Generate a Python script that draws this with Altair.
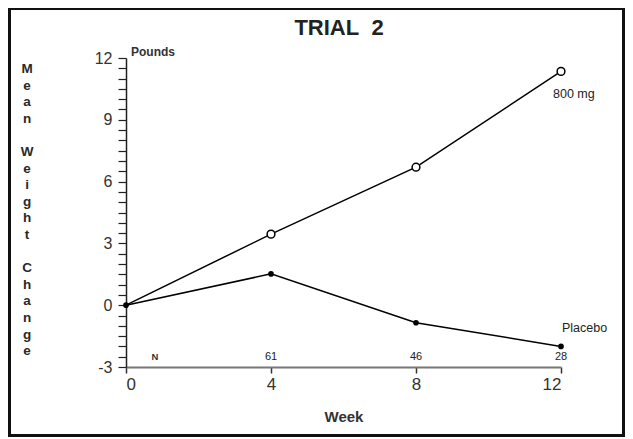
import altair as alt
import pandas as pd

weeks = [0, 4, 8, 12]
dose_800 = [0.0, 3.45, 6.7, 11.35]
placebo = [0.0, 1.52, -0.85, -2.0]
n_weeks = [4, 8, 12]
n_counts = ["61", "46", "28"]
y_ticks = [-3 + 0.5 * i for i in range(31)]
x_ticks = [0, 4, 8, 12]
y_title_words = ["Mean", "Weight", "Change"]
y_title_start_line = [0, 5, 12]

df = pd.DataFrame({
    "week": weeks + weeks,
    "value": dose_800 + placebo,
    "series": ["800 mg"] * 4 + ["Placebo"] * 4,
})
ndf = pd.DataFrame({"week": n_weeks, "value": [-3] * 3, "n": n_counts})

FONT = "Liberation Sans"
W, H = 435, 309
LH = 16.6

xs = alt.X("week:Q", scale=alt.Scale(domain=[0, 12], nice=False),
           axis=alt.Axis(values=x_ticks, title="Week", grid=False, domainColor="#777",
                         domainWidth=2, tickColor="#333", tickWidth=1.5, tickSize=6,
                         labelFontSize=17, labelColor="#333", labelFont=FONT, labelPadding=3,
                         titleFont=FONT, titleFontSize=15, titleFontWeight="bold",
                         titleColor="#333", titlePadding=17))
ys = alt.Y("value:Q", scale=alt.Scale(domain=[-3, 12], nice=False, zero=False),
           axis=alt.Axis(values=y_ticks, labelExpr="datum.value % 3 == 0 ? '' + datum.value : ''",
                         grid=False, domainColor="#222", domainWidth=1.5, tickColor="#222",
                         tickWidth=1.2, tickSize=8, labelFontSize=16, labelColor="#333",
                         labelFont=FONT, labelPadding=6, labelOverlap=False, title=None))

base = alt.Chart(df)
lines = base.mark_line(color="black", strokeWidth=1.5).encode(x=xs, y=ys, detail="series:N")
open_pts = base.transform_filter("datum.series == '800 mg' && datum.week > 0").mark_point(
    shape="circle", filled=True, fill="white", stroke="black", strokeWidth=1.5, size=60, opacity=1
).encode(x=xs, y=ys)
fill_pts = base.transform_filter("datum.series == 'Placebo'").mark_point(
    shape="circle", filled=True, color="black", size=32, opacity=1
).encode(x=xs, y=ys)

lab800 = base.transform_filter("datum.series == '800 mg' && datum.week == 12").mark_text(
    align="left", baseline="middle", dx=-8, dy=23, fontSize=12.5, font=FONT, color="#222"
).encode(x=xs, y=ys, text="series:N")
labpl = base.transform_filter("datum.series == 'Placebo' && datum.week == 12").mark_text(
    align="left", baseline="middle", dx=1, dy=-18, fontSize=12.5, font=FONT, color="#222"
).encode(x=xs, y=ys, text="series:N")

ntext = alt.Chart(ndf).mark_text(baseline="middle", dy=-10, fontSize=11, font=FONT, color="#222").encode(
    x=xs, y=ys, text="n:N")
nlab = alt.Chart(pd.DataFrame({"week": [0], "value": [-3], "t": ["N"]})).mark_text(
    baseline="middle", dx=29, dy=-10, fontSize=9.5, font=FONT, fontWeight="bold", color="#333"
).encode(x=xs, y=ys, text="t:N")
pounds = alt.Chart(pd.DataFrame({"week": [0], "value": [12], "t": ["Pounds"]})).mark_text(
    align="left", baseline="middle", dx=5, dy=-6, fontSize=12, font=FONT, fontWeight="bold", color="#333"
).encode(x=xs, y=ys, text="t:N")

title = alt.Chart(pd.DataFrame({"t": ["TRIAL\u00a0\u00a02"]})).mark_text(
    align="center", baseline="middle", fontSize=22, font=FONT, fontWeight="bold", color="#222"
).encode(x=alt.value(213), y=alt.value(-30), text="t:N")

ytitles = []
for word, start in zip(y_title_words, y_title_start_line):
    ytitles.append(alt.Chart(pd.DataFrame({"a": [0]})).mark_text(
        align="center", baseline="alphabetic", fontSize=13.5, font=FONT, fontWeight="bold",
        color="#2a2a2a", lineHeight=LH, text=list(word)
    ).encode(x=alt.value(-99), y=alt.value(15 + start * LH)))

frame = alt.Chart(pd.DataFrame({"a": [0]})).mark_rect(
    fill=None, fillOpacity=0, stroke="#111", strokeWidth=3
).encode(x=alt.value(-116.5), x2=alt.value(497.5), y=alt.value(-49.5), y2=alt.value(377.5))

chart = alt.layer(frame, lines, open_pts, fill_pts, lab800, labpl, ntext, nlab, pounds, title, *ytitles).properties(
    width=W, height=H,
    autosize=alt.AutoSizeParams(type="none"),
    padding={"left": 118, "top": 50, "right": 64, "bottom": 72},
).configure(background="white").configure_view(stroke="transparent", strokeWidth=0)

chart.save("out.html", embed_options={"renderer": "svg", "actions": False})
